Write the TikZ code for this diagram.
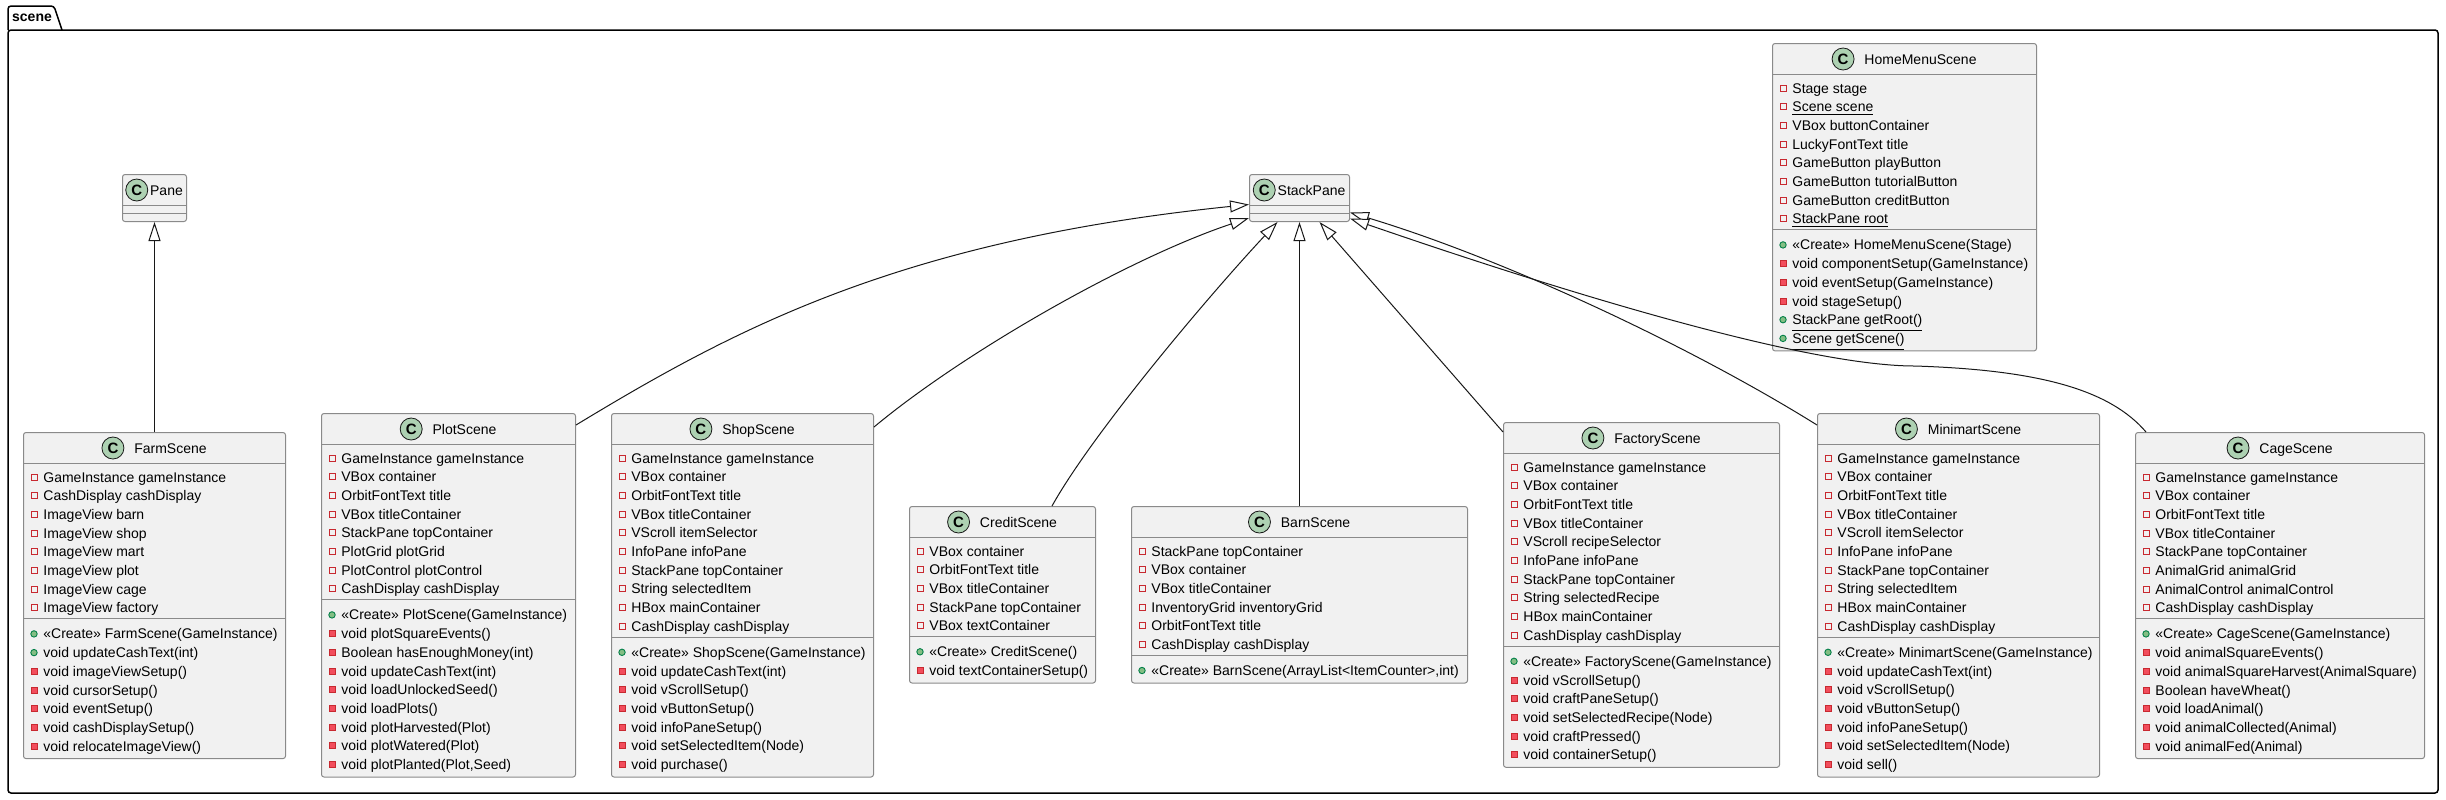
\documentclass[tikz,border=0pt]{standalone}
\usepackage{fontspec}
\setmainfont{Liberation Sans}
\usetikzlibrary{arrows.meta,calc}

\definecolor{classbg}{HTML}{F1F1F1}
\definecolor{classborder}{HTML}{8A8A8A}
\definecolor{iconbg}{HTML}{ADD1B2}
\definecolor{privline}{HTML}{C82930}
\definecolor{privfill}{HTML}{F24D5C}
\definecolor{publine}{HTML}{038048}
\definecolor{pubfill}{HTML}{84BE84}
\definecolor{edgecol}{HTML}{181818}

\tikzset{
  classbox/.style={rectangle, anchor=north west, inner sep=0pt, rounded corners=1.25pt,
    fill=classbg, draw=classborder, line width=0.5pt},
  classline/.style={draw=classborder, line width=0.5pt},
  classname/.style={anchor=base, inner sep=0pt, font=\fontsize{7}{8.4}\selectfont},
  classicon/.style={circle, fill=iconbg, draw=edgecol, line width=0.4pt, minimum size=11pt,
    inner sep=0pt, font=\fontsize{7.5}{8}\selectfont\bfseries},
  member/.style={anchor=base west, inner sep=0pt, font=\fontsize{7}{8.4}\selectfont},
  fld/.style={rectangle, draw=privline, line width=0.45pt, minimum size=3pt, inner sep=0pt},
  mth/.style={rectangle, draw=privline, fill=privfill, line width=0.45pt, minimum size=3pt, inner sep=0pt},
  pub/.style={circle, draw=publine, fill=pubfill, line width=0.45pt, minimum size=3.2pt, inner sep=0pt},
  extends/.style={draw=edgecol, line width=0.5pt, -{Triangle[fill=white, length=9.5pt, width=6pt]}},
  pkg/.style={draw=black, line width=0.75pt},
  pkgname/.style={inner sep=0pt, font=\fontsize{7}{8.4}\selectfont\bfseries}
}

% #1 name, #2 left, #3 top, #4 width, #5 title, #6 fields, #7 methods, #8 field list, #9 method list
\newcommand{\umlclass}[9]{%
  \node[classbox, minimum width={#4*0.5pt}, minimum height={(45.6+(#6+#7)*18.7)*0.5pt}] (#1) at (#2,#3) {};
  \draw[classline] ($(#1.north west)+(0,31)$) -- ($(#1.north east)+(0,31)$);
  \draw[classline] ($(#1.north west)+(0,{37.3+#6*18.7})$) -- ($(#1.north east)+(0,{37.3+#6*18.7})$);
  \node[classname] (#1-name) at ($(#1.north)+(0,21)$) {\hspace{16pt}#5};
  \node[classicon] at ($(#1-name.base west)+(11,-5)$) {C};
  \foreach \vis/\txt [count=\i] in {#8} {
    \node[\vis] at ($(#1.north west)+(11,{45+(\i-1)*18.7})$) {};
    \node[member] at ($(#1.north west)+(20,{50+(\i-1)*18.7})$) {\txt};
  }
  \foreach \vis/\txt [count=\i] in {#9} {
    \node[\vis] at ($(#1.north west)+(11,{52.3+(#6+\i-1)*18.7})$) {};
    \node[member] at ($(#1.north west)+(20,{57.3+(#6+\i-1)*18.7})$) {\txt};
  }
}

\begin{document}
\begin{tikzpicture}[x=0.5pt, y=-0.5pt]
  \useasboundingbox (0,0) rectangle (2446,799);

  \draw[pkg, rounded corners=1.5pt] (8,30) |- (54,6) -- (62,30);
  \draw[pkg, rounded corners=1.5pt] (8,30) rectangle (2438,793);
  \node[pkgname] (scene) at (32,18) {scene};

  \node[classbox, minimum width=32pt, minimum height=23.5pt] (pane) at (122,174) {};
  \draw[classline] ($(pane.north west)+(0,31)$) -- ($(pane.north east)+(0,31)$);
  \draw[classline] ($(pane.north west)+(0,39)$) -- ($(pane.north east)+(0,39)$);
  \node[classname] (pane-name) at ($(pane.north)+(0,21)$) {\hspace{12pt}Pane};
  \node[classicon] at ($(pane-name.base west)+(11,-5)$) {C};

  \node[classbox, minimum width=50pt, minimum height=23.5pt] (stack) at (1249,174) {};
  \draw[classline] ($(stack.north west)+(0,31)$) -- ($(stack.north east)+(0,31)$);
  \draw[classline] ($(stack.north west)+(0,39)$) -- ($(stack.north east)+(0,39)$);
  \node[classname] (stack-name) at ($(stack.north)+(0,21)$) {\hspace{12pt}StackPane};
  \node[classicon] at ($(stack-name.base west)+(11,-5)$) {C};

  \umlclass{home}{1772}{43}{264}{HomeMenuScene}{8}{6}
    {fld/{Stage stage}, fld/{\underline{Scene scene}}, fld/{VBox buttonContainer},
     fld/{LuckyFontText title}, fld/{GameButton playButton}, fld/{GameButton tutorialButton},
     fld/{GameButton creditButton}, fld/{\underline{StackPane root}}}
    {pub/{«Create» HomeMenuScene(Stage)}, mth/{void componentSetup(GameInstance)},
     mth/{void eventSetup(GameInstance)}, mth/{void stageSetup()},
     pub/{\underline{StackPane getRoot()}}, pub/{\underline{Scene getScene()}}}

  \umlclass{farm}{23}{432}{262}{FarmScene}{8}{7}
    {fld/{GameInstance gameInstance}, fld/{CashDisplay cashDisplay}, fld/{ImageView barn},
     fld/{ImageView shop}, fld/{ImageView mart}, fld/{ImageView plot}, fld/{ImageView cage},
     fld/{ImageView factory}}
    {pub/{«Create» FarmScene(GameInstance)}, pub/{void updateCashText(int)},
     mth/{void imageViewSetup()}, mth/{void cursorSetup()}, mth/{void eventSetup()},
     mth/{void cashDisplaySetup()}, mth/{void relocateImageView()}}

  \umlclass{plot}{321}{413}{254}{PlotScene}{8}{9}
    {fld/{GameInstance gameInstance}, fld/{VBox container}, fld/{OrbitFontText title},
     fld/{VBox titleContainer}, fld/{StackPane topContainer}, fld/{PlotGrid plotGrid},
     fld/{PlotControl plotControl}, fld/{CashDisplay cashDisplay}}
    {pub/{«Create» PlotScene(GameInstance)}, mth/{void plotSquareEvents()},
     mth/{Boolean hasEnoughMoney(int)}, mth/{void updateCashText(int)},
     mth/{void loadUnlockedSeed()}, mth/{void loadPlots()}, mth/{void plotHarvested(Plot)},
     mth/{void plotWatered(Plot)}, mth/{void plotPlanted(Plot,Seed)}}

  \umlclass{shop}{611}{413}{262}{ShopScene}{10}{7}
    {fld/{GameInstance gameInstance}, fld/{VBox container}, fld/{OrbitFontText title},
     fld/{VBox titleContainer}, fld/{VScroll itemSelector}, fld/{InfoPane infoPane},
     fld/{StackPane topContainer}, fld/{String selectedItem}, fld/{HBox mainContainer},
     fld/{CashDisplay cashDisplay}}
    {pub/{«Create» ShopScene(GameInstance)}, mth/{void updateCashText(int)},
     mth/{void vScrollSetup()}, mth/{void vButtonSetup()}, mth/{void infoPaneSetup()},
     mth/{void setSelectedItem(Node)}, mth/{void purchase()}}

  \umlclass{credit}{909}{506}{186}{CreditScene}{5}{2}
    {fld/{VBox container}, fld/{OrbitFontText title}, fld/{VBox titleContainer},
     fld/{StackPane topContainer}, fld/{VBox textContainer}}
    {pub/{«Create» CreditScene()}, mth/{void textContainerSetup()}}

  \umlclass{barn}{1131}{506}{336}{BarnScene}{6}{1}
    {fld/{StackPane topContainer}, fld/{VBox container}, fld/{VBox titleContainer},
     fld/{InventoryGrid inventoryGrid}, fld/{OrbitFontText title}, fld/{CashDisplay cashDisplay}}
    {pub/{«Create» BarnScene(ArrayList<ItemCounter>,int)}}

  \umlclass{factory}{1503}{422}{276}{FactoryScene}{10}{6}
    {fld/{GameInstance gameInstance}, fld/{VBox container}, fld/{OrbitFontText title},
     fld/{VBox titleContainer}, fld/{VScroll recipeSelector}, fld/{InfoPane infoPane},
     fld/{StackPane topContainer}, fld/{String selectedRecipe}, fld/{HBox mainContainer},
     fld/{CashDisplay cashDisplay}}
    {pub/{«Create» FactoryScene(GameInstance)}, mth/{void vScrollSetup()},
     mth/{void craftPaneSetup()}, mth/{void setSelectedRecipe(Node)},
     mth/{void craftPressed()}, mth/{void containerSetup()}}

  \umlclass{minimart}{1817}{413}{282}{MinimartScene}{10}{7}
    {fld/{GameInstance gameInstance}, fld/{VBox container}, fld/{OrbitFontText title},
     fld/{VBox titleContainer}, fld/{VScroll itemSelector}, fld/{InfoPane infoPane},
     fld/{StackPane topContainer}, fld/{String selectedItem}, fld/{HBox mainContainer},
     fld/{CashDisplay cashDisplay}}
    {pub/{«Create» MinimartScene(GameInstance)}, mth/{void updateCashText(int)},
     mth/{void vScrollSetup()}, mth/{void vButtonSetup()}, mth/{void infoPaneSetup()},
     mth/{void setSelectedItem(Node)}, mth/{void sell()}}

  \umlclass{cage}{2135}{432}{289}{CageScene}{8}{7}
    {fld/{GameInstance gameInstance}, fld/{VBox container}, fld/{OrbitFontText title},
     fld/{VBox titleContainer}, fld/{StackPane topContainer}, fld/{AnimalGrid animalGrid},
     fld/{AnimalControl animalControl}, fld/{CashDisplay cashDisplay}}
    {pub/{«Create» CageScene(GameInstance)}, mth/{void animalSquareEvents()},
     mth/{void animalSquareHarvest(AnimalSquare)}, mth/{Boolean haveWheat()},
     mth/{void loadAnimal()}, mth/{void animalCollected(Animal)}, mth/{void animalFed(Animal)}}

  \draw[extends] (farm.north) -- (pane.south);
  \draw[extends] ($(plot.north east)+(0,12)$) .. controls +(160,-97) and +(-349,36) .. ($(stack.west)+(0,6.5)$);
  \draw[extends] ($(shop.north east)+(0,14)$) .. controls +(90,-75) and +(-120,40) .. ($(stack.west)+(0,20)$);
  \draw[extends] ($(credit.north east)+(-44,0)$) .. controls +(40,-72) and +(-70,75) .. ($(stack.south)+(-22,0)$);
  \draw[extends] (barn.north) -- (stack.south);
  \draw[extends] ($(factory.north west)+(0,10)$) -- ($(stack.south)+(20,0)$);
  \draw[extends] ($(minimart.north west)+(0,12)$) .. controls +(-130,-81) and +(150,45) .. ($(stack.east)+(0,14.5)$);
  \draw[extends] ($(cage.north west)+(11,0)$) .. controls +(-36,-42) and +(125,4) .. (1915,366)
    .. controls +(-125,0) and +(151,52) .. ($(stack.east)+(0,20.5)$);
\end{tikzpicture}
\end{document}
